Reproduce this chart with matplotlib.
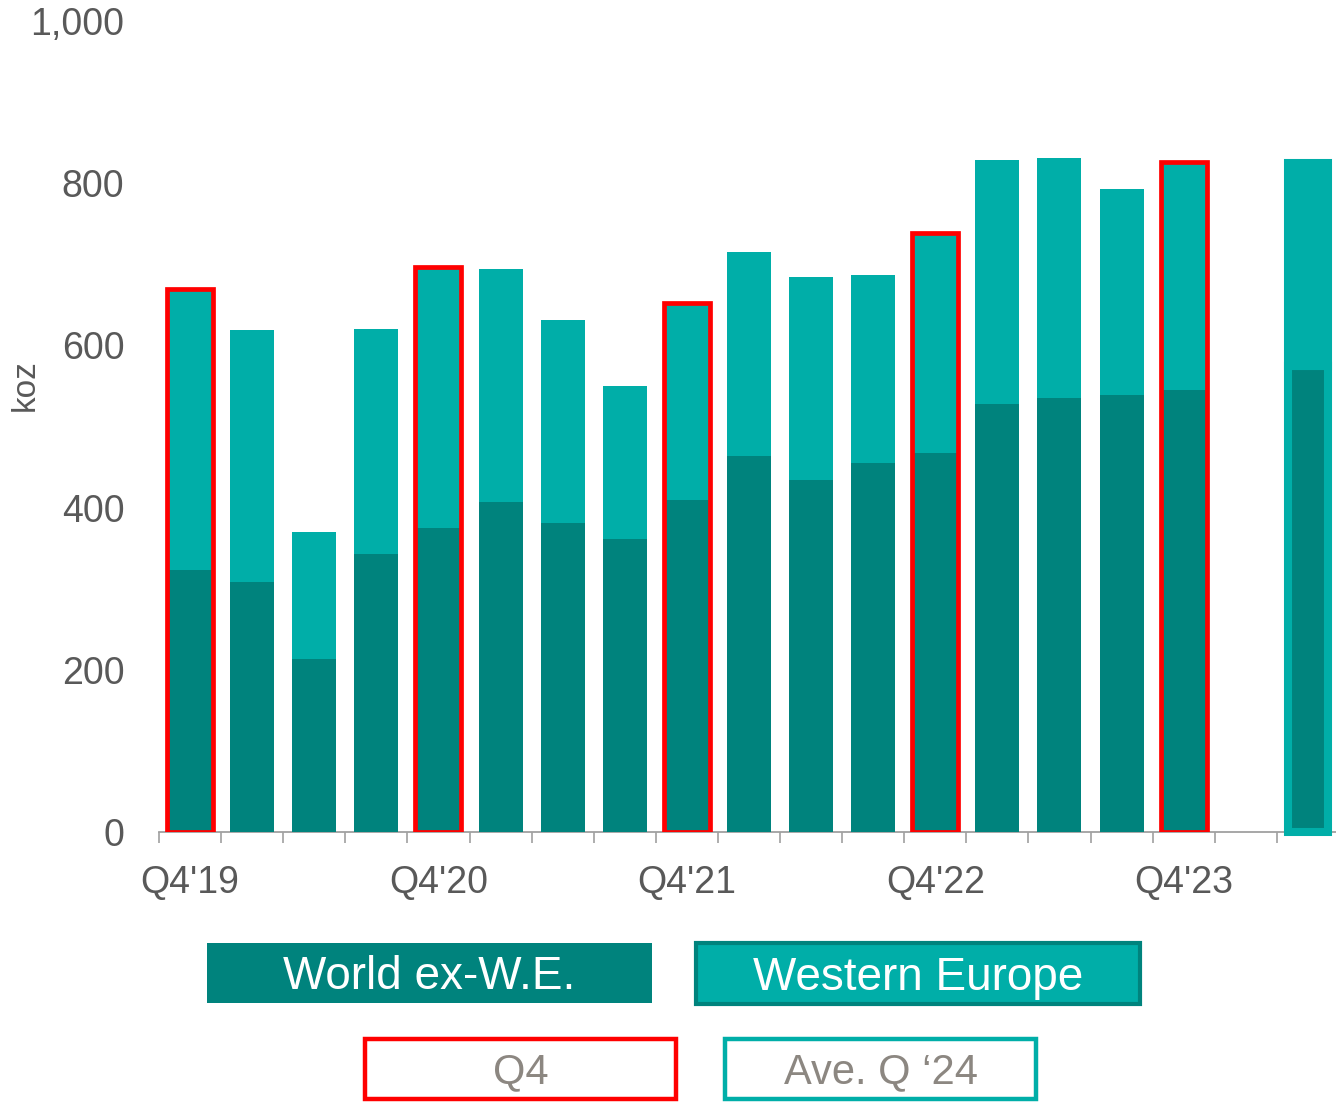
import matplotlib
matplotlib.use("Agg")
import matplotlib.pyplot as plt
from matplotlib.patches import Rectangle
import numpy as np

plt.rcParams['font.family'] = ['Liberation Sans', 'DejaVu Sans']

# ---- data ----
categories = ["Q4'19", "Q1'20", "Q2'20", "Q3'20", "Q4'20", "Q1'21", "Q2'21", "Q3'21",
              "Q4'21", "Q1'22", "Q2'22", "Q3'22", "Q4'22", "Q1'23", "Q2'23", "Q3'23", "Q4'23"]
world_ex_we = [323, 308, 213, 343, 375, 407, 381, 361, 409, 464, 434, 455, 467, 528, 535, 539, 545]
western_europe = [346, 311, 157, 277, 322, 287, 250, 189, 243, 251, 250, 232, 272, 301, 296, 254, 281]
ave_q24_world = 575
ave_q24_we = 250
tick_labels = ["Q4'19", "Q4'20", "Q4'21", "Q4'22", "Q4'23"]
yticks = [0, 200, 400, 600, 800, 1000]

DARK = '#00837D'
LIGHT = '#00AEA8'
RED = '#FF0000'
GRAY = '#595959'
LGRAY = '#8C8781'

W, H = 1336, 1103
fig = plt.figure(figsize=(W / 100, H / 100), dpi=100)
ax = fig.add_axes([159 / W, (H - 832) / H, 1177 / W, 811 / H])

n = len(categories)
x = np.arange(n)
world = np.array(world_ex_we)
we = np.array(western_europe)
total = world + we

ax.bar(x, world, width=0.71, color=DARK, linewidth=0, zorder=2)
ax.bar(x, we, bottom=world, width=0.71, color=LIGHT, linewidth=0, zorder=2)

# Q4 highlight boxes
q4_idx = [i for i, c in enumerate(categories) if c.startswith("Q4")]
ax.bar(x[q4_idx], total[q4_idx], width=0.74, fill=False, edgecolor=RED,
       linewidth=3.4, zorder=3)

# Average Q'24 bar
xa = n + 1
ax.bar([xa], [ave_q24_world], width=0.65, color=DARK, edgecolor=LIGHT, linewidth=5.8,
       zorder=2, clip_on=False)
ax.bar([xa], [ave_q24_we], bottom=[ave_q24_world], width=0.65, color=LIGHT,
       edgecolor=LIGHT, linewidth=5.8, zorder=2)

ax.set_xlim(-0.5, -0.5 + 1177 / 62.1)
ax.set_ylim(0, 1000)

for s in ['top', 'right', 'left']:
    ax.spines[s].set_visible(False)
ax.spines['bottom'].set_color('#A0A0A0')
ax.spines['bottom'].set_linewidth(1.3)
ax.spines['bottom'].set_zorder(1)

ax.set_xticks(np.arange(-0.5, n + 1, 1.0))
ax.set_xticklabels([])
ax.tick_params(axis='x', which='major', length=8, width=1.2, color='#A0A0A0', direction='out')
lab_pos = [categories.index(t) for t in tick_labels]
ax.set_xticks(lab_pos, minor=True)
ax.set_xticklabels(tick_labels, minor=True, fontsize=27, color=GRAY)
ax.tick_params(axis='x', which='minor', length=0, pad=24)

ax.set_yticks(yticks)
ax.set_yticklabels([f"{v:,}" for v in yticks], fontsize=27, color=GRAY)
ax.tick_params(axis='y', length=0, pad=25)

fig.text(25 / W, 1 - 385 / H, 'koz', rotation=90, fontsize=24, color=GRAY,
         ha='center', va='center')

# legend boxes (figure pixel coordinates)
def box(x0, y0, x1, y1, face, edge, lw, text, tcolor, fs, dy):
    fig.patches.append(Rectangle((x0 / W, 1 - y1 / H), (x1 - x0) / W, (y1 - y0) / H,
                                 transform=fig.transFigure, facecolor=face,
                                 edgecolor=edge, linewidth=lw, zorder=5))
    fig.text((x0 + x1) / 2 / W, 1 - ((y0 + y1) / 2 + dy) / H, text, ha='center',
             va='center', fontsize=fs, color=tcolor, zorder=6)

box(207, 943, 652, 1003, DARK, 'none', 0, 'World ex-W.E.', 'white', 33, 4)
box(696, 943, 1140, 1004, LIGHT, DARK, 3, 'Western Europe', 'white', 33, 4)
box(365, 1039, 676, 1099, 'white', RED, 3.2, 'Q4', LGRAY, 30, 3)
box(725, 1039, 1036, 1099, 'white', LIGHT, 3.2, 'Ave. Q \u201824', LGRAY, 30, 3)

fig.savefig('out.png', dpi=100)
